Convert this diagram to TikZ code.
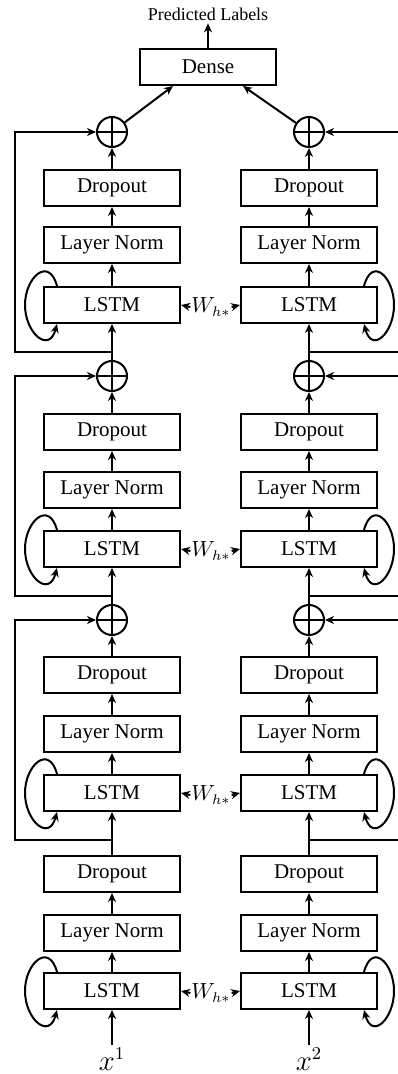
\documentclass[tikz,border=0pt]{standalone}
\usepackage{fontspec}
\setmainfont{Liberation Serif}
\usetikzlibrary{arrows.meta}

\begin{document}
\begin{tikzpicture}[x=0.5pt,y=-0.5pt,line width=1pt,>={Stealth[length=4.5pt,width=4pt]},
  box/.style={draw,minimum width=68pt,minimum height=18pt,inner sep=0pt,font=\fontsize{10.5}{12}\selectfont},
  sum/.style={draw,circle,minimum size=15pt,inner sep=0pt,
    path picture={\draw (path picture bounding box.north) -- (path picture bounding box.south)
      (path picture bounding box.west) -- (path picture bounding box.east);}},
  wlab/.style={inner sep=0pt,font=\fontsize{10.5}{12}\selectfont},
  xlab/.style={inner sep=1pt,font=\fontsize{13.5}{15}\selectfont}]
\fill [white] (0,0) rectangle (397,1074);
\useasboundingbox (0,0) rectangle (397,1074);
\node [inner sep=1pt,font=\fontsize{9}{10}\selectfont] (pl) at (208,14) {Predicted Labels};
\node [box] (dense) at (208,67) {Dense};
\node [sum] (o1L) at (112,132) {};
\node [sum] (o1R) at (309,132) {};
\node [box] (d1L) at (112,188) {Dropout};
\node [box] (d1R) at (309,188) {Dropout};
\node [box] (n1L) at (112,245) {Layer Norm};
\node [box] (n1R) at (309,245) {Layer Norm};
\node [box] (s1L) at (112,305) {LSTM};
\node [box] (s1R) at (309,305) {LSTM};
\node [wlab] (w1) at (211,307) {$W_{h*}$};
\coordinate (c1L) at (112,352);
\coordinate (c1R) at (309,352);
\node [sum] (o2L) at (112,376) {};
\node [sum] (o2R) at (309,376) {};
\node [box] (d2L) at (112,432) {Dropout};
\node [box] (d2R) at (309,432) {Dropout};
\node [box] (n2L) at (112,490) {Layer Norm};
\node [box] (n2R) at (309,490) {Layer Norm};
\node [box] (s2L) at (112,549) {LSTM};
\node [box] (s2R) at (309,549) {LSTM};
\node [wlab] (w2) at (211,551) {$W_{h*}$};
\coordinate (c2L) at (112,596);
\coordinate (c2R) at (309,596);
\node [sum] (o3L) at (112,620) {};
\node [sum] (o3R) at (309,620) {};
\node [box] (d3L) at (112,675) {Dropout};
\node [box] (d3R) at (309,675) {Dropout};
\node [box] (n3L) at (112,734) {Layer Norm};
\node [box] (n3R) at (309,734) {Layer Norm};
\node [box] (s3L) at (112,793) {LSTM};
\node [box] (s3R) at (309,793) {LSTM};
\node [wlab] (w3) at (211,795) {$W_{h*}$};
\coordinate (c3L) at (112,840);
\coordinate (c3R) at (309,840);
\node [box] (d4L) at (112,874) {Dropout};
\node [box] (d4R) at (309,874) {Dropout};
\node [box] (n4L) at (112,933) {Layer Norm};
\node [box] (n4R) at (309,933) {Layer Norm};
\node [box] (s4L) at (112,991) {LSTM};
\node [box] (s4R) at (309,991) {LSTM};
\node [wlab] (w4) at (211,993) {$W_{h*}$};
\node [xlab] (x1) at (112,1059) {$x^1$};
\node [xlab] (x2) at (309,1059) {$x^2$};
\draw [->] (dense) -- (pl);
\draw [->] (o1L) -- ([xshift=-17.5pt]dense.south);
\draw [->] (o1R) -- ([xshift=17.5pt]dense.south);
\draw [->] (d1L) -- (o1L);
\draw [->] (d1R) -- (o1R);
\draw [->] (n1L) -- (d1L);
\draw [->] (n1R) -- (d1R);
\draw [->] (s1L) -- (n1L);
\draw [->] (s1R) -- (n1R);
\draw [->] (o2L) -- (s1L);
\draw [->] (o2R) -- (s1R);
\draw [->] (c1L) -- ++(-97,0) |- (o1L.west);
\draw [->] (c1R) -- ++(91,0) |- (o1R.east);
\draw [->] (d2L) -- (o2L);
\draw [->] (d2R) -- (o2R);
\draw [->] (n2L) -- (d2L);
\draw [->] (n2R) -- (d2R);
\draw [->] (s2L) -- (n2L);
\draw [->] (s2R) -- (n2R);
\draw [->] (o3L) -- (s2L);
\draw [->] (o3R) -- (s2R);
\draw [->] (c2L) -- ++(-97,0) |- (o2L.west);
\draw [->] (c2R) -- ++(91,0) |- (o2R.east);
\draw [->] (d3L) -- (o3L);
\draw [->] (d3R) -- (o3R);
\draw [->] (n3L) -- (d3L);
\draw [->] (n3R) -- (d3R);
\draw [->] (s3L) -- (n3L);
\draw [->] (s3R) -- (n3R);
\draw [->] (d4L) -- (s3L);
\draw [->] (d4R) -- (s3R);
\draw [->] (c3L) -- ++(-97,0) |- (o3L.west);
\draw [->] (c3R) -- ++(91,0) |- (o3R.east);
\draw [->] (n4L) -- (d4L);
\draw [->] (n4R) -- (d4R);
\draw [->] (s4L) -- (n4L);
\draw [->] (s4R) -- (n4R);
\draw [->] (x1) -- (s4L);
\draw [->] (x2) -- (s4R);
\draw [->] (w1.west) -- (s1L.east);
\draw [->] (w1.east) -- (s1R.west);
\draw [->] (w2.west) -- (s2L.east);
\draw [->] (w2.east) -- (s2R.west);
\draw [->] (w3.west) -- (s3L.east);
\draw [->] (w3.east) -- (s3R.west);
\draw [->] (w4.west) -- (s4L.east);
\draw [->] (w4.east) -- (s4R.west);
\draw [->] ([xshift=7pt]s1L.north west) .. controls +(-8,-30) and +(0,-28) .. ([xshift=-9pt]s1L.west) .. controls +(0,28) and +(-8,30) .. ([xshift=7pt]s1L.south west);
\draw [->] ([xshift=-7pt]s1R.north east) .. controls +(8,-30) and +(0,-28) .. ([xshift=8pt]s1R.east) .. controls +(0,28) and +(8,30) .. ([xshift=-7pt]s1R.south east);
\draw [->] ([xshift=7pt]s2L.north west) .. controls +(-8,-30) and +(0,-28) .. ([xshift=-9pt]s2L.west) .. controls +(0,28) and +(-8,30) .. ([xshift=7pt]s2L.south west);
\draw [->] ([xshift=-7pt]s2R.north east) .. controls +(8,-30) and +(0,-28) .. ([xshift=8pt]s2R.east) .. controls +(0,28) and +(8,30) .. ([xshift=-7pt]s2R.south east);
\draw [->] ([xshift=7pt]s3L.north west) .. controls +(-8,-30) and +(0,-28) .. ([xshift=-9pt]s3L.west) .. controls +(0,28) and +(-8,30) .. ([xshift=7pt]s3L.south west);
\draw [->] ([xshift=-7pt]s3R.north east) .. controls +(8,-30) and +(0,-28) .. ([xshift=8pt]s3R.east) .. controls +(0,28) and +(8,30) .. ([xshift=-7pt]s3R.south east);
\draw [->] ([xshift=7pt]s4L.north west) .. controls +(-8,-30) and +(0,-28) .. ([xshift=-9pt]s4L.west) .. controls +(0,28) and +(-8,30) .. ([xshift=7pt]s4L.south west);
\draw [->] ([xshift=-7pt]s4R.north east) .. controls +(8,-30) and +(0,-28) .. ([xshift=8pt]s4R.east) .. controls +(0,28) and +(8,30) .. ([xshift=-7pt]s4R.south east);
\end{tikzpicture}
\end{document}
